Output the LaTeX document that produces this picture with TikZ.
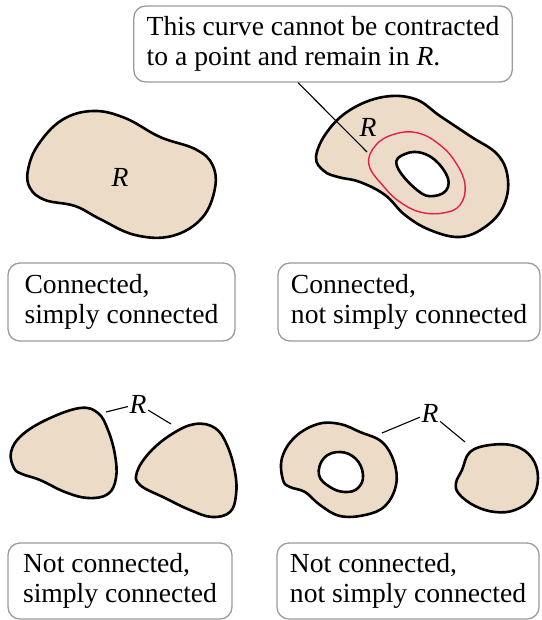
\documentclass[tikz,border=0pt]{standalone}
\usepackage{fontspec}
\setmainfont{Liberation Serif}
\definecolor{tan}{RGB}{236,220,199}
\definecolor{boxgray}{RGB}{155,155,155}
\definecolor{curvered}{RGB}{232,30,70}
\begin{document}
\begin{tikzpicture}[x=1pt,y=-1pt,
  blob/.style={fill=tan, draw=black, line width=2.6pt, line join=round},
  hole/.style={fill=white, draw=black, line width=2.6pt, line join=round},
  lbl/.style={draw=boxgray, line width=1.3pt, rounded corners=12pt, fill=white,
    align=left, inner xsep=13pt, inner ysep=4pt,
    font=\fontsize{27.6}{30.5}\selectfont},
  rlab/.style={font=\fontsize{27.6}{30}\selectfont\itshape, inner sep=1.5pt},
  leader/.style={line width=1.1pt, black}]
\useasboundingbox (0,0) rectangle (541,620);

% ---------- top-left blob ----------
\draw[blob] plot[smooth cycle, tension=0.65] coordinates {
  (45,200) (30,188) (28,170) (38,145) (62,120) (93,111) (125,118)
  (160,137) (195,149) (212,164) (215,188) (202,218) (172,236) (135,235)
  (100,219) (75,206)};
\node[rlab] (r1) at (120,177) {R};

% ---------- top-right blob with hole ----------
\draw[blob] plot[smooth cycle, tension=0.65] coordinates {
  (324,171) (316,157) (327,132) (350,110) (383,97) (415,99) (440,116)
  (470,136) (498,155) (508,180) (503,207) (485,227) (460,237) (430,230)
  (405,215) (385,195) (360,182) (338,177)};
\draw[curvered, line width=1.4pt] plot[smooth cycle, tension=0.7] coordinates {
  (369,165) (376,145) (395,134) (418,133) (440,145) (456,163) (465,185)
  (460,205) (443,213) (420,212) (400,202) (385,188)};
\draw[hole] plot[smooth cycle, tension=0.75] coordinates {
  (397,166) (405,154) (425,154) (443,169) (448,187) (434,196) (417,190)};
\node[rlab] (r2) at (368,127) {R};

% ---------- callout ----------
\node[lbl, minimum height=76pt] (c) at (323,44)
  {This curve cannot be contracted\\to a point and remain in \textit{R}.};
\coordinate (ce) at (367,152);
\draw[leader] ([xshift=-25pt]c.south) -- (ce);

% ---------- bottom-left blobs ----------
\draw[blob] plot[smooth cycle, tension=0.65] coordinates {
  (14,468) (11,452) (22,435) (48,419) (80,408) (98,413) (108,430)
  (115,455) (116,478) (108,494) (88,498) (65,492) (40,480) (22,474)};
\draw[blob] plot[smooth cycle, tension=0.65] coordinates {
  (140,485) (137,472) (150,452) (172,434) (195,424) (215,428) (227,445)
  (235,472) (236,495) (230,512) (212,517) (190,510) (165,498)};
\node[rlab] (r3) at (138,404) {R};
\coordinate (a1) at (106,412);
\coordinate (a2) at (171,424);
\draw[leader] (r3) -- (a1);
\draw[leader] (r3) -- (a2);

% ---------- bottom-right blobs ----------
\draw[blob] plot[smooth cycle, tension=0.65] coordinates {
  (283,480) (282,458) (295,437) (318,424) (340,424) (360,432) (382,442)
  (394,462) (396,485) (385,506) (365,515) (340,516) (320,505) (305,492)
  (290,487)};
\draw[hole] plot[smooth cycle, tension=0.7] coordinates {
  (319,475) (324,458) (340,452) (356,459) (363,475) (358,488) (345,492)
  (330,487)};
\draw[blob] plot[smooth cycle, tension=0.65] coordinates {
  (462,470) (470,452) (490,445) (515,446) (532,458) (538,478) (532,498)
  (515,510) (495,512) (475,506) (459,494) (456,483)};
\node[rlab] (r4) at (430,413) {R};
\coordinate (b1e) at (382,433);
\coordinate (b2e) at (465,442);
\draw[leader] (r4) -- (b1e);
\draw[leader] (r4) -- (b2e);

% ---------- labels ----------
\node[lbl, minimum width=227pt, minimum height=78pt] (l1) at (121.5,302)
  {Connected,\\simply connected};
\node[lbl, minimum width=260pt, minimum height=78pt] (l2) at (409,302)
  {Connected,\\not simply connected};
\node[lbl, minimum width=224pt, minimum height=76pt] (l3) at (120,581)
  {Not connected,\\simply connected};
\node[lbl, minimum width=262pt, minimum height=76pt] (l4) at (408,581)
  {Not connected,\\not simply connected};
\end{tikzpicture}
\end{document}
